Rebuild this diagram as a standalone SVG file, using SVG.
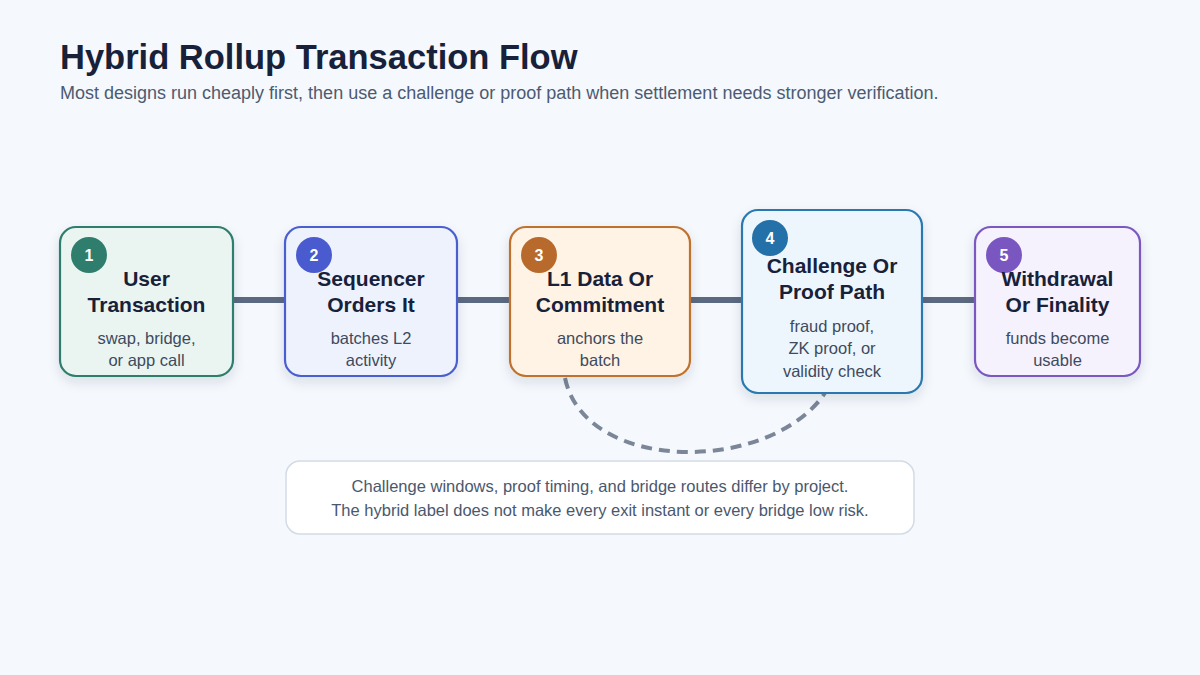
<svg xmlns="http://www.w3.org/2000/svg" width="1200" height="675" viewBox="0 0 1200 675">
<defs>
<filter id="sh" x="-20%" y="-20%" width="140%" height="150%">
<feDropShadow dx="0" dy="5" stdDeviation="6" flood-color="#1e2a44" flood-opacity="0.12"/>
</filter>
<style>
.t{font-family:"Liberation Sans",Arial,sans-serif;font-weight:700;font-size:21px;fill:#18213a;text-anchor:middle}
.s{font-family:"Liberation Sans",Arial,sans-serif;font-size:16.5px;fill:#3e4a5e;text-anchor:middle}
.b{font-family:"Liberation Sans",Arial,sans-serif;font-weight:700;font-size:16px;fill:#ffffff;text-anchor:middle}
.box{stroke-width:2.2;filter:url(#sh)}
.link{stroke:#5b6a80;stroke-width:6;fill:none}
.dash{stroke:#7b8698;stroke-width:4;fill:none;stroke-dasharray:11 7}
.note{font-family:"Liberation Sans",Arial,sans-serif;font-size:16.5px;fill:#4a586e;text-anchor:middle}
</style>
</defs>
<rect width="1200" height="675" fill="#f5f8fc"/>
<text x="60" y="69" font-family="Liberation Sans, Arial, sans-serif" font-weight="700" font-size="34.5" fill="#17213a">Hybrid Rollup Transaction Flow</text>
<text x="60" y="99" font-family="Liberation Sans, Arial, sans-serif" font-size="18" fill="#4c5b72">Most designs run cheaply first, then use a challenge or proof path when settlement needs stronger verification.</text>
<g id="connectors">
<line class="link" x1="233" y1="300" x2="286" y2="300"/>
<line class="link" x1="457" y1="300" x2="510" y2="300"/>
<line class="link" x1="690" y1="300" x2="743" y2="300"/>
<line class="link" x1="922" y1="300" x2="975" y2="300"/>
<path class="dash" d="M565,378 C585,474 770,474 825,393"/>
</g>
<g id="node1">
<rect class="box" x="60" y="227" width="173" height="149" rx="16" fill="#eaf5f1" stroke="#2f7d6d"/>
<circle cx="89" cy="255" r="18" fill="#2f7d6d"/>
<text class="b" x="89" y="261">1</text>
<text class="t" x="146.5" y="286">User</text>
<text class="t" x="146.5" y="312">Transaction</text>
<text class="s" x="146.5" y="344">swap, bridge,</text>
<text class="s" x="146.5" y="366">or app call</text>
</g>
<g id="node2">
<rect class="box" x="285" y="227" width="172" height="149" rx="16" fill="#eef2fd" stroke="#4a5fd0"/>
<circle cx="314" cy="255" r="18" fill="#4a5bd0"/>
<text class="b" x="314" y="261">2</text>
<text class="t" x="371" y="286">Sequencer</text>
<text class="t" x="371" y="312">Orders It</text>
<text class="s" x="371" y="344">batches L2</text>
<text class="s" x="371" y="366">activity</text>
</g>
<g id="node3">
<rect class="box" x="510" y="227" width="180" height="149" rx="16" fill="#fef3e4" stroke="#c0712e"/>
<circle cx="539" cy="255" r="18" fill="#b86a2c"/>
<text class="b" x="539" y="261">3</text>
<text class="t" x="600" y="286">L1 Data Or</text>
<text class="t" x="600" y="312">Commitment</text>
<text class="s" x="600" y="344">anchors the</text>
<text class="s" x="600" y="366">batch</text>
</g>
<g id="node4">
<rect class="box" x="742" y="210" width="180" height="183" rx="16" fill="#eef6fd" stroke="#2a78b0"/>
<circle cx="770" cy="238" r="18" fill="#2470a8"/>
<text class="b" x="770" y="244">4</text>
<text class="t" x="832" y="273">Challenge Or</text>
<text class="t" x="832" y="299">Proof Path</text>
<text class="s" x="832" y="332">fraud proof,</text>
<text class="s" x="832" y="354">ZK proof, or</text>
<text class="s" x="832" y="377">validity check</text>
</g>
<g id="node5">
<rect class="box" x="975" y="227" width="165" height="149" rx="16" fill="#f5f1fd" stroke="#7a58c0"/>
<circle cx="1004" cy="255" r="18" fill="#7a56c0"/>
<text class="b" x="1004" y="261">5</text>
<text class="t" x="1057.5" y="286">Withdrawal</text>
<text class="t" x="1057.5" y="312">Or Finality</text>
<text class="s" x="1057.5" y="344">funds become</text>
<text class="s" x="1057.5" y="366">usable</text>
</g>
<g id="note">
<rect x="286" y="461" width="628" height="73" rx="14" fill="#ffffff" stroke="#d3dbe5" stroke-width="1.5"/>
<text class="note" x="600" y="492">Challenge windows, proof timing, and bridge routes differ by project.</text>
<text class="note" x="600" y="516">The hybrid label does not make every exit instant or every bridge low risk.</text>
</g>
</svg>
